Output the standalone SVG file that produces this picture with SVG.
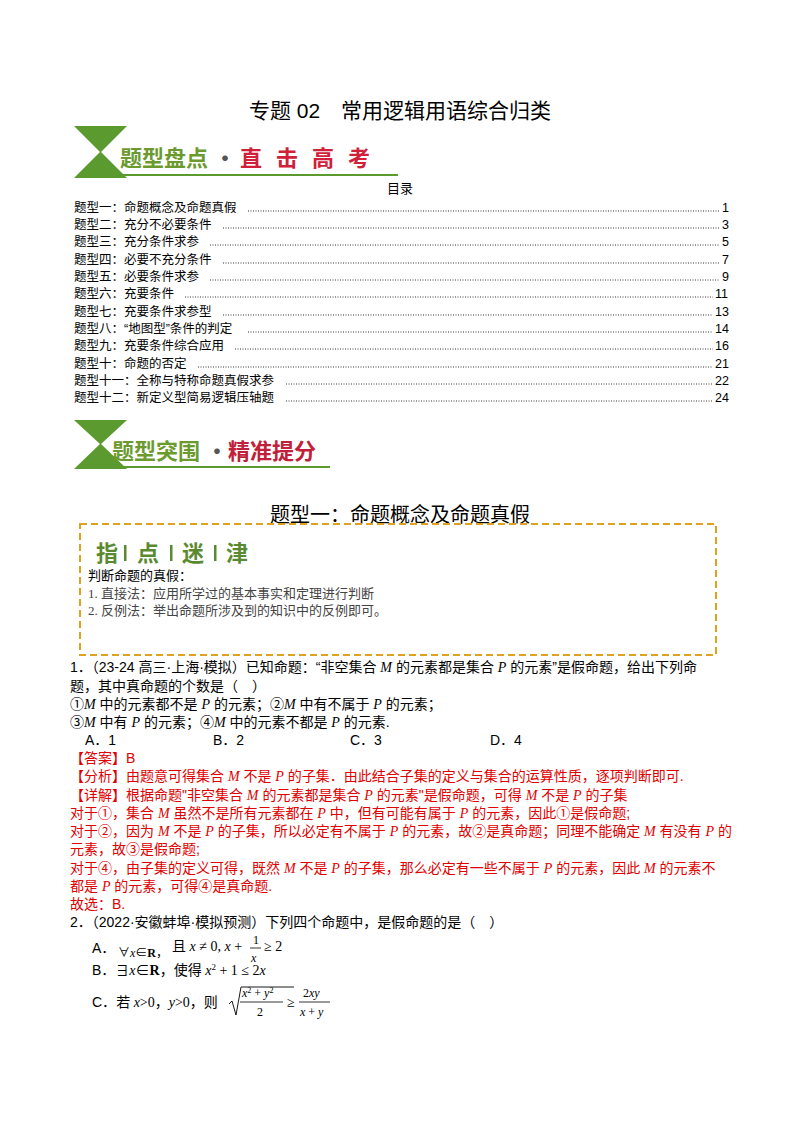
<svg xmlns="http://www.w3.org/2000/svg" width="800" height="1132" viewBox="0 0 800 1132">
<style>
text{font-family:"Liberation Sans","Noto Sans CJK SC",sans-serif;font-size:14px;fill:#000}
.s{font-family:"Liberation Serif","Noto Sans CJK SC",serif}
.r{fill:#e00000}
.toc text{font-size:12.5px}
.dot{stroke:#000;stroke-width:0.8;stroke-dasharray:1 1.5}
.i{font-family:"Liberation Serif",serif;font-style:italic}
.bn{font-size:22px;font-weight:bold;font-family:"Noto Sans CJK SC",sans-serif}
.tp{font-size:13px}
</style>
<rect width="800" height="1132" fill="#fff"/>
<text x="400" y="118" text-anchor="middle" style="font-size:21px">专题 02　常用逻辑用语综合归类</text>
<g id="banner1">
<polygon points="74,126 127,126 101,152 127,178 74,178 100,152" fill="#5a9a2e"/>
<line x1="100" y1="175" x2="398" y2="175" stroke="#5a9a2e" stroke-width="2"/>
<text x="120" y="166" class="bn" style="fill:#6b9a2e">题型盘点</text>
<text x="214" y="166" class="bn" style="fill:#555">·</text>
<text x="240" y="166" class="bn" style="fill:#d0203a;letter-spacing:14px">直击高考</text>
</g>
<text x="400" y="193" text-anchor="middle" style="font-size:13px">目录</text>
<g id="toc" class="toc">
<text x="74" y="212">题型一：命题概念及命题真假</text><line class="dot" x1="248" y1="211" x2="720" y2="211"/><text x="722" y="212">1</text>
<text x="74" y="229">题型二：充分不必要条件</text><line class="dot" x1="223" y1="228" x2="720" y2="228"/><text x="722" y="229">3</text>
<text x="74" y="246">题型三：充分条件求参</text><line class="dot" x1="210" y1="245" x2="720" y2="245"/><text x="722" y="246">5</text>
<text x="74" y="264">题型四：必要不充分条件</text><line class="dot" x1="223" y1="263" x2="720" y2="263"/><text x="722" y="264">7</text>
<text x="74" y="281">题型五：必要条件求参</text><line class="dot" x1="210" y1="280" x2="720" y2="280"/><text x="722" y="281">9</text>
<text x="74" y="298">题型六：充要条件</text><line class="dot" x1="185" y1="297" x2="713" y2="297"/><text x="715" y="298">11</text>
<text x="74" y="316">题型七：充要条件求参型</text><line class="dot" x1="223" y1="315" x2="713" y2="315"/><text x="715" y="316">13</text>
<text x="74" y="333">题型八：“地图型”条件的判定</text><line class="dot" x1="248" y1="332" x2="713" y2="332"/><text x="715" y="333">14</text>
<text x="74" y="350">题型九：充要条件综合应用</text><line class="dot" x1="235" y1="349" x2="713" y2="349"/><text x="715" y="350">16</text>
<text x="74" y="368">题型十：命题的否定</text><line class="dot" x1="198" y1="367" x2="713" y2="367"/><text x="715" y="368">21</text>
<text x="74" y="385">题型十一：全称与特称命题真假求参</text><line class="dot" x1="286" y1="384" x2="713" y2="384"/><text x="715" y="385">22</text>
<text x="74" y="402">题型十二：新定义型简易逻辑压轴题</text><line class="dot" x1="286" y1="401" x2="713" y2="401"/><text x="715" y="402">24</text>
</g>
<g id="banner2">
<polygon points="74,420 127,420 101,444 127,469 74,469 100,444" fill="#5a9a2e"/>
<line x1="100" y1="467" x2="330" y2="467" stroke="#5a9a2e" stroke-width="2"/>
<text x="112" y="459" class="bn" style="fill:#6b9a2e">题型突围</text>
<text x="206" y="459" class="bn" style="fill:#555">·</text>
<text x="228" y="459" class="bn" style="fill:#c0203a">精准提分</text>
</g>
<text x="400" y="522" text-anchor="middle" style="font-size:20px;font-family:'Noto Sans CJK SC',sans-serif">题型一：命题概念及命题真假</text>
<g id="tipbox">
<rect x="80" y="524" width="636" height="131" fill="none" stroke="#e0a020" stroke-width="2" stroke-dasharray="7 4"/>
<text x="96" y="561" style="font-size:22px;font-weight:bold;fill:#5a8a30;font-family:'Noto Sans CJK SC',sans-serif">指</text>
<rect x="124" y="545" width="2.5" height="16" fill="#5a8a30"/>
<text x="137" y="561" style="font-size:22px;font-weight:bold;fill:#5a8a30;font-family:'Noto Sans CJK SC',sans-serif">点</text>
<rect x="170" y="545" width="2.5" height="16" fill="#5a8a30"/>
<text x="182" y="561" style="font-size:22px;font-weight:bold;fill:#5a8a30;font-family:'Noto Sans CJK SC',sans-serif">迷</text>
<rect x="214" y="545" width="2.5" height="16" fill="#5a8a30"/>
<text x="226" y="561" style="font-size:22px;font-weight:bold;fill:#5a8a30;font-family:'Noto Sans CJK SC',sans-serif">津</text>
<text x="88" y="580" class="s tp">判断命题的真假：</text>
<text x="88" y="598" class="s tp" style="fill:#444">1. 直接法：应用所学过的基本事实和定理进行判断</text>
<text x="88" y="615" class="s tp" style="fill:#444">2. 反例法：举出命题所涉及到的知识中的反例即可。</text>
</g>
<g id="q1">
<text x="70" y="672">1．（23-24 高三·上海·模拟）已知命题：“非空集合 <tspan class="i">M</tspan> 的元素都是集合 <tspan class="i">P</tspan> 的元素”是假命题，给出下列命</text>
<text x="70" y="691">题，其中真命题的个数是（　）</text>
<text x="70" y="709">①<tspan class="i">M</tspan> 中的元素都不是 <tspan class="i">P</tspan> 的元素；②<tspan class="i">M</tspan> 中有不属于 <tspan class="i">P</tspan> 的元素；</text>
<text x="70" y="727">③<tspan class="i">M</tspan> 中有 <tspan class="i">P</tspan> 的元素；④<tspan class="i">M</tspan> 中的元素不都是 <tspan class="i">P</tspan> 的元素.</text>
<text x="85" y="745">A．1</text><text x="213" y="745">B．2</text><text x="350" y="745">C．3</text><text x="490" y="745">D．4</text>
<text x="70" y="763" class="r">【答案】B</text>
<text x="70" y="781" class="r">【分析】由题意可得集合 <tspan class="i">M</tspan> 不是 <tspan class="i">P</tspan> 的子集．由此结合子集的定义与集合的运算性质，逐项判断即可.</text>
<text x="70" y="800" class="r">【详解】根据命题"非空集合 <tspan class="i">M</tspan> 的元素都是集合 <tspan class="i">P</tspan> 的元素"是假命题，可得 <tspan class="i">M</tspan> 不是 <tspan class="i">P</tspan> 的子集</text>
<text x="70" y="818" class="r">对于①，集合 <tspan class="i">M</tspan> 虽然不是所有元素都在 <tspan class="i">P</tspan> 中，但有可能有属于 <tspan class="i">P</tspan> 的元素，因此①是假命题;</text>
<text x="70" y="836" class="r">对于②，因为 <tspan class="i">M</tspan> 不是 <tspan class="i">P</tspan> 的子集，所以必定有不属于 <tspan class="i">P</tspan> 的元素，故②是真命题；同理不能确定 <tspan class="i">M</tspan> 有没有 <tspan class="i">P</tspan> 的</text>
<text x="70" y="854" class="r">元素，故③是假命题;</text>
<text x="70" y="873" class="r">对于④，由子集的定义可得，既然 <tspan class="i">M</tspan> 不是 <tspan class="i">P</tspan> 的子集，那么必定有一些不属于 <tspan class="i">P</tspan> 的元素，因此 <tspan class="i">M</tspan> 的元素不</text>
<text x="70" y="891" class="r">都是 <tspan class="i">P</tspan> 的元素，可得④是真命题.</text>
<text x="70" y="909" class="r">故选：B.</text>
</g>
<g id="q2">
<text x="70" y="927">2．（2022·安徽蚌埠·模拟预测）下列四个命题中，是假命题的是（　）</text>
<text x="92" y="953">A．</text>
<text x="118" y="957" class="s" style="font-size:12px">∀<tspan class="i">x</tspan>∈<tspan font-weight="bold">R</tspan>，</text>
<text x="172" y="951" class="s">且 <tspan class="i">x</tspan> ≠ 0, <tspan class="i">x</tspan> +</text>
<text x="253" y="944" class="s" style="font-size:12px">1</text>
<line x1="250" y1="948" x2="261" y2="948" stroke="#000" stroke-width="0.8"/>
<text x="251" y="962" class="i" style="font-size:12px">x</text>
<text x="264" y="951" class="s">≥ 2</text>
<text x="92" y="975">B．<tspan class="s">∃<tspan class="i">x</tspan>∈<tspan font-weight="bold">R</tspan>，使得 <tspan class="i">x</tspan><tspan font-size="9" dy="-5">2</tspan><tspan dy="5"> + 1 ≤ 2</tspan><tspan class="i">x</tspan></tspan></text>
<text x="92" y="1007">C．<tspan class="s">若 <tspan class="i">x</tspan>&gt;0，<tspan class="i">y</tspan>&gt;0，则</tspan></text>
<path d="M229,1004 l3,-3 4,14 5,-28 h53" fill="none" stroke="#000" stroke-width="0.9"/>
<text x="242" y="997" class="s" style="font-size:12px"><tspan class="i">x</tspan><tspan font-size="8" dy="-4">2</tspan><tspan dy="4"> + </tspan><tspan class="i">y</tspan><tspan font-size="8" dy="-4">2</tspan></text>
<line x1="240" y1="1002" x2="283" y2="1002" stroke="#000" stroke-width="0.8"/>
<text x="257" y="1016" class="s" style="font-size:12px">2</text>
<text x="287" y="1007" class="s">≥</text>
<text x="303" y="997" class="s" style="font-size:12px">2<tspan class="i">xy</tspan></text>
<line x1="299" y1="1002" x2="330" y2="1002" stroke="#000" stroke-width="0.8"/>
<text x="300" y="1016" class="s" style="font-size:12px"><tspan class="i">x</tspan> + <tspan class="i">y</tspan></text>
</g>
</svg>
